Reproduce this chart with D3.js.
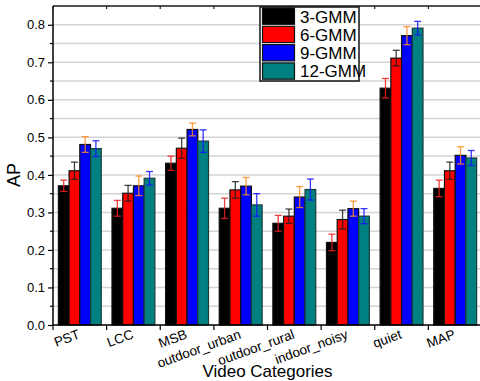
<!DOCTYPE html>
<html><head><meta charset="utf-8">
<script src="https://cdn.jsdelivr.net/npm/d3@7"></script>
<style>body{margin:0;background:#fff}svg{display:block;font-family:"Liberation Sans",Arial,sans-serif}</style>
</head><body><svg id="c" width="480" height="381"></svg>
<script>
const categories = ["PST","LCC","MSB","outdoor_urban","outdoor_rural","indoor_noisy","quiet","MAP"];
const seriesNames = ["3-GMM","6-GMM","9-GMM","12-GMM"];
const gmm3  = [0.371,0.311,0.431,0.311,0.271,0.220,0.631,0.364];
const gmm6  = [0.411,0.351,0.471,0.360,0.290,0.281,0.711,0.411];
const gmm9  = [0.481,0.371,0.521,0.370,0.341,0.310,0.771,0.452];
const gmm12 = [0.470,0.391,0.490,0.320,0.361,0.290,0.791,0.445];
const err3  = [0.015,0.021,0.019,0.027,0.021,0.022,0.026,0.022];
const err6  = [0.023,0.021,0.027,0.022,0.019,0.025,0.021,0.023];
const err9  = [0.021,0.026,0.017,0.023,0.028,0.020,0.024,0.023];
const err12 = [0.021,0.018,0.030,0.030,0.028,0.020,0.018,0.020];
const yTicks = [0,0.1,0.2,0.3,0.4,0.5,0.6,0.7,0.8];

const values = [gmm3,gmm6,gmm9,gmm12];
const errs = [err3,err6,err9,err12];
const fills = ["#000000","#ff0000","#0000ff","#008080"];
const errColors = ["rgba(240,30,30,0.85)","rgba(30,30,30,0.85)","rgba(255,140,30,0.85)","rgba(20,20,255,0.85)"];

const svg = d3.select("#c");
const L=53, R=482, T=6, B=325;
const x = d3.scaleBand().domain(categories).range([L,R]).paddingInner(0).paddingOuter(0);
const xs = d3.scaleBand().domain(seriesNames).range([x.bandwidth()*0.1, x.bandwidth()*0.9]);
const y = d3.scaleLinear().domain([0,0.85]).range([B,T]);

// grid lines
const gridVals = d3.range(0.05,0.851,0.05);
svg.append("g").selectAll("line").data(gridVals).join("line")
  .attr("x1",L).attr("x2",R).attr("y1",d=>y(d)).attr("y2",d=>y(d))
  .attr("stroke","#d4d4d4").attr("stroke-width",1.5);

// bars
const rows=[];
categories.forEach((c,i)=>seriesNames.forEach((s,j)=>rows.push({c,s,j,v:values[j][i],e:errs[j][i]})));
const g = svg.append("g");
g.selectAll("rect").data(rows).join("rect")
  .attr("x",d=>x(d.c)+xs(d.s)).attr("width",xs.bandwidth())
  .attr("y",d=>y(d.v)).attr("height",d=>y(0)-y(d.v))
  .attr("fill",d=>fills[d.j]).attr("stroke",d=>d.j===3?"#1c3c3c":"#111").attr("stroke-width",1.2);

// error bars
const eg = svg.append("g");
rows.forEach(d=>{
  const cx = x(d.c)+xs(d.s)+xs.bandwidth()/2;
  const col = errColors[d.j];
  const y1=y(d.v+d.e), y2=y(d.v-d.e);
  eg.append("line").attr("x1",cx).attr("x2",cx).attr("y1",y1).attr("y2",y2).attr("stroke",col).attr("stroke-width",1.3);
  [y1,y2].forEach(yy=>eg.append("line").attr("x1",cx-3.5).attr("x2",cx+3.5).attr("y1",yy).attr("y2",yy).attr("stroke",col).attr("stroke-width",1.3));
});

// axes frame
svg.append("line").attr("x1",L).attr("x2",L).attr("y1",T).attr("y2",B).attr("stroke","#000").attr("stroke-width",1.5);
svg.append("line").attr("x1",L).attr("x2",R).attr("y1",B).attr("y2",B).attr("stroke","#000").attr("stroke-width",1.5);
svg.append("line").attr("x1",L).attr("x2",R).attr("y1",T).attr("y2",T).attr("stroke","#222").attr("stroke-width",1.5);

// y axis ticks
const yAxis = d3.axisLeft(y).tickValues(yTicks).tickFormat(d3.format(".1f")).tickSize(5).tickPadding(3);
const ya = svg.append("g").attr("transform",`translate(${L},0)`).call(yAxis);
ya.select(".domain").remove();
ya.selectAll("text").attr("font-size",13).attr("fill","#000").attr("font-family","Liberation Sans, Arial, sans-serif");
ya.selectAll("line").attr("stroke","#000").attr("stroke-width",1.2);
svg.append("g").selectAll("line").data(d3.range(0.05,0.85,0.1)).join("line")
  .attr("x1",L-3).attr("x2",L).attr("y1",d=>y(d)).attr("y2",d=>y(d)).attr("stroke","#000").attr("stroke-width",1.2);

// x ticks at boundaries
const bounds = categories.map(c=>x(c)).concat([R]);
svg.append("g").selectAll("line").data(bounds).join("line")
  .attr("x1",d=>d).attr("x2",d=>d).attr("y1",B).attr("y2",B+5).attr("stroke","#000").attr("stroke-width",1.2);
svg.append("g").selectAll("line").data(bounds).join("line")
  .attr("x1",d=>d).attr("x2",d=>d).attr("y1",T).attr("y2",T+3).attr("stroke","#222").attr("stroke-width",1.2);

// x labels
svg.append("g").selectAll("text").data(categories).join("text")
  .attr("transform",d=>`translate(${x(d)+x.bandwidth()/2+1},${B+13}) rotate(-20)`)
  .attr("text-anchor","end").attr("font-size",13.5).attr("fill","#000").text(d=>d);

// axis titles
svg.append("text").attr("x",(L+R)/2).attr("y",377).attr("text-anchor","middle").attr("font-size",17).text("Video Categories");
svg.append("text").attr("transform","translate(20,175) rotate(-90)").attr("text-anchor","middle").attr("font-size",18).text("AP");

// legend
const lg = svg.append("g").attr("transform","translate(260,7)");
lg.append("rect").attr("width",99).attr("height",74).attr("fill","#fff").attr("stroke","#111").attr("stroke-width",1.5);
seriesNames.forEach((s,j)=>{
  lg.append("rect").attr("x",2.5).attr("y",1+j*18.3).attr("width",32).attr("height",16.3)
    .attr("fill",fills[j]).attr("stroke","#111").attr("stroke-width",1.2);
  lg.append("text").attr("x",40).attr("y",15.5+j*18.3).attr("font-size",17).text(s);
});
</script></body></html>
